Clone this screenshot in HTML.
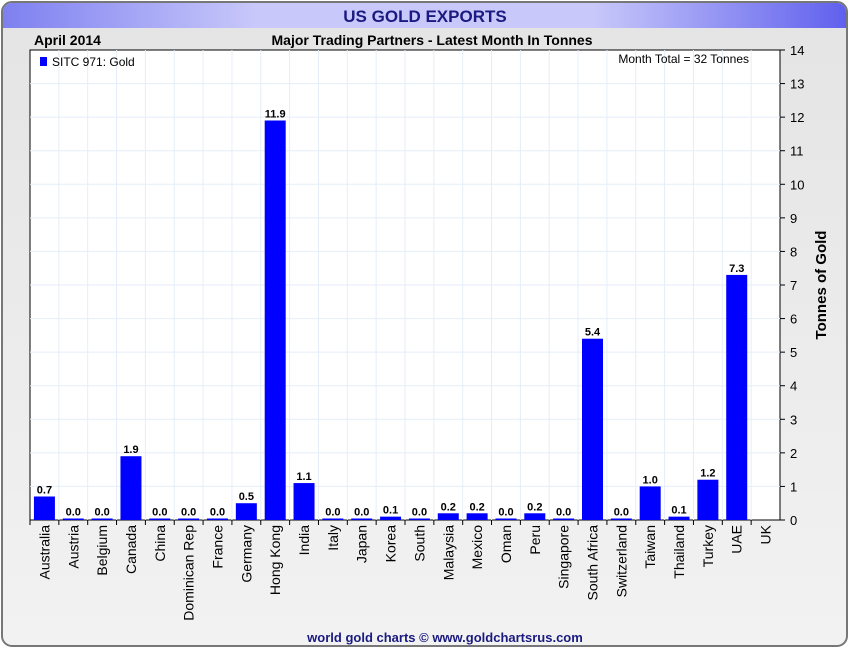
<!DOCTYPE html>
<html><head><meta charset="utf-8"><style>
body{margin:0;width:850px;height:650px;background:#fff;overflow:hidden;font-family:"Liberation Sans",sans-serif}
</style></head><body>
<svg width="850" height="650" xmlns="http://www.w3.org/2000/svg">
<defs>
<linearGradient id="hdr" x1="0" x2="1" y1="0" y2="0"><stop offset="0" stop-color="#7e80f0"/><stop offset="0.3" stop-color="#c8c8fa"/><stop offset="0.7" stop-color="#c8c8fa"/><stop offset="1" stop-color="#6060ee"/></linearGradient>
<linearGradient id="bg" x1="0" x2="0" y1="0" y2="1"><stop offset="0" stop-color="#e4e4e4"/><stop offset="1" stop-color="#f2f2f2"/></linearGradient>
</defs>
<rect x="2" y="2" width="845" height="644" rx="10" fill="url(#bg)" stroke="#777" stroke-width="2"/>
<path d="M3 28 V12 a9 9 0 0 1 9 -9 H837 a9 9 0 0 1 9 9 V28 Z" fill="url(#hdr)"/>
<text x="425" y="22" text-anchor="middle" font-size="17" font-weight="bold" fill="#1a1a80">US GOLD EXPORTS</text>
<text x="34" y="45" font-size="14" font-weight="bold" fill="#000">April 2014</text>
<text x="432" y="45" text-anchor="middle" font-size="14" font-weight="bold" fill="#000">Major Trading Partners - Latest Month In Tonnes</text>
<rect x="30" y="50" width="750" height="470" fill="#fff" stroke="#000" stroke-width="1"/>
<g id="grid"></g>
<g id="bars"></g>
<g id="axis"></g>
<rect x="40" y="57" width="7" height="9" fill="#0000ff"/>
<text x="52" y="66" font-size="12" fill="#000">SITC 971: Gold</text>
<text x="749" y="63" text-anchor="end" font-size="12" fill="#000">Month Total = 32 Tonnes</text>
<text transform="translate(826,285) rotate(-90)" text-anchor="middle" font-size="15" font-weight="bold" fill="#000">Tonnes of Gold</text>
<text x="445" y="642" text-anchor="middle" font-size="13" font-weight="bold" fill="#1a1a80">world gold charts © www.goldchartsrus.com</text>
</svg>
<script>
const categories=["Australia","Austria","Belgium","Canada","China","Dominican Rep","France","Germany","Hong Kong","India","Italy","Japan","Korea","South","Malaysia","Mexico","Oman","Peru","Singapore","South Africa","Switzerland","Taiwan","Thailand","Turkey","UAE","UK"];
const values=[0.7,0.0,0.0,1.9,0.0,0.0,0.0,0.5,11.9,1.1,0.0,0.0,0.1,0.0,0.2,0.2,0.0,0.2,0.0,5.4,0.0,1.0,0.1,1.2,7.3,null];
const valueLabels=["0.7","0.0","0.0","1.9","0.0","0.0","0.0","0.5","11.9","1.1","0.0","0.0","0.1","0.0","0.2","0.2","0.0","0.2","0.0","5.4","0.0","1.0","0.1","1.2","7.3",""];
const yTicks=[0,1,2,3,4,5,6,7,8,9,10,11,12,13,14];
const NS="http://www.w3.org/2000/svg";
const L=30,R=780,T=50,B=520,yMax=14;
const bw=(R-L)/categories.length;
const y=v=>B-(v/yMax)*(B-T);
const x=i=>L+i*bw;
function mk(tag,attrs,parent){const e=document.createElementNS(NS,tag);for(const k in attrs)e.setAttribute(k,attrs[k]);document.getElementById(parent).appendChild(e);return e;}
yTicks.forEach(t=>{
  if(t>0&&t<yMax){const g=mk("line",{x1:L,x2:R,y1:y(t),y2:y(t),stroke:"#e4eef8","stroke-width":1},"grid");
  
  }
  const tk=mk("line",{x1:R,x2:R+5,y1:y(t),y2:y(t),stroke:"#000"},"axis");
  
  
  const tl=mk("text",{x:R+10,y:y(t)+5,"font-size":13,fill:"#000"},"axis");
  tl.textContent=t;
  
  
});
categories.forEach((c,i)=>{
  if(i>0){const g=mk("line",{x1:x(i),x2:x(i),y1:T,y2:B,stroke:"#e4eef8"},"grid");
  
  }
  const tk=mk("line",{x1:x(i),x2:x(i),y1:B,y2:B+5,stroke:"#000"},"axis");
  
  
  const cx=x(i)+bw/2;
  const lab=mk("text",{transform:`translate(${cx+5},${B+5}) rotate(-90)`,"text-anchor":"end","font-size":14,fill:"#000"},"axis");
  lab.textContent=c;
  
  
  const v=values[i];
  if(v!==null){
    const top=Math.min(y(v),B-1.5);
    const b=mk("rect",{x:cx-10.5,y:top,width:21,height:B-top,fill:"#0000ff"},"bars");
    
    
    const vl=mk("text",{x:cx,y:top-3,"text-anchor":"middle","font-size":11,"font-weight":"bold",fill:"#000"},"bars");
    vl.textContent=valueLabels[i];
    
    
  }
});
</script>
</body></html>
